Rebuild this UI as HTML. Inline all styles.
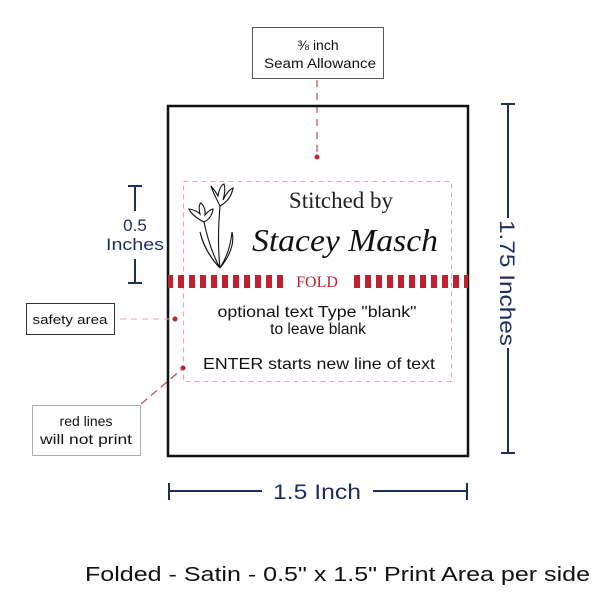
<!DOCTYPE html>
<html><head><style>
body{margin:0;background:#fff}
svg text{font-family:"Liberation Sans",sans-serif}
</style></head><body>
<svg width="600" height="600" viewBox="0 0 600 600" xmlns="http://www.w3.org/2000/svg">
<defs>
<pattern id="st" x="167" y="0" width="11" height="20" patternUnits="userSpaceOnUse"><rect x="0" y="0" width="6" height="20" fill="#c0202f"/></pattern>
</defs>
<!-- seam label -->
<rect x="252.5" y="27.5" width="131" height="51" fill="#fff" stroke="#555" stroke-width="1"/>
<text x="318" y="50" font-size="14" text-anchor="middle" fill="#111">⅜ inch</text>
<text x="320" y="68" font-size="13.5" text-anchor="middle" fill="#111" textLength="112" lengthAdjust="spacingAndGlyphs">Seam Allowance</text>
<line x1="317" y1="80" x2="317" y2="156" stroke="#c0202f" stroke-width="1" stroke-dasharray="7,6"/>
<circle cx="317" cy="157" r="2.5" fill="#c0202f"/>
<!-- outer rect -->
<rect x="168" y="106" width="300" height="350" fill="none" stroke="#111" stroke-width="2.5"/>
<!-- safety box -->
<rect x="183.5" y="181.5" width="268" height="200" fill="none" stroke="#f5a0aa" stroke-width="1" stroke-dasharray="5,4"/>
<!-- fold band -->
<rect x="168" y="275" width="115" height="13" fill="url(#st)"/>
<rect x="354" y="275" width="114" height="13" fill="url(#st)"/>
<text x="317" y="287" font-size="16" text-anchor="middle" fill="#c0202f" style="font-family:'Liberation Serif',serif">FOLD</text>
<!-- texts -->
<text x="341" y="208" font-size="23" text-anchor="middle" fill="#222" style="font-family:'Liberation Serif',serif">Stitched by</text>
<text x="345" y="251" font-size="32" text-anchor="middle" fill="#111" font-style="italic" style="font-family:'Liberation Serif',serif" textLength="186" lengthAdjust="spacingAndGlyphs">Stacey Masch</text>
<text x="317" y="317" font-size="15.5" text-anchor="middle" fill="#111" textLength="199" lengthAdjust="spacingAndGlyphs">optional text  Type "blank"</text>
<text x="318" y="334" font-size="15.5" text-anchor="middle" fill="#111">to leave blank</text>
<text x="319" y="369" font-size="16" text-anchor="middle" fill="#111" textLength="232" lengthAdjust="spacingAndGlyphs">ENTER starts  new line of text</text>
<!-- tulip -->
<g fill="none" stroke="#111" stroke-width="1.1">
<path d="M220 206 Q212 190 211 186 Q216 192 218 196 Q220 185 224 184 Q226 190 223 200 Q228 190 233 188 Q231 200 220 206 Z"/>
<path d="M204 222 Q192 216 189 209 Q196 210 200 214 Q198 205 201 203 Q206 208 205 215 Q209 210 213 209 Q212 218 204 222 Z"/>
<path d="M220 206 Q217 240 220 268 M204 222 Q210 250 220 268 M220 268 Q205 252 200 232 Q204 250 218 266 M220 268 Q236 248 232 232 Q230 252 221 266"/>
</g>
<!-- dimensions -->
<g stroke="#1f2d5c" stroke-width="2" fill="none">
<line x1="128" y1="186" x2="142" y2="186"/><line x1="135" y1="186" x2="135" y2="211"/>
<line x1="128" y1="283" x2="142" y2="283"/><line x1="135" y1="259" x2="135" y2="283"/>
<line x1="508" y1="104" x2="508" y2="218"/><line x1="508" y1="348" x2="508" y2="453"/>
<line x1="501" y1="104" x2="515" y2="104"/><line x1="501" y1="453" x2="515" y2="453"/>
<line x1="169" y1="483" x2="169" y2="500"/><line x1="467" y1="483" x2="467" y2="500"/>
<line x1="169" y1="491" x2="262" y2="491"/><line x1="373" y1="491" x2="467" y2="491"/>
</g>
<text x="135" y="231" font-size="17" text-anchor="middle" fill="#1f2d5c">0.5</text>
<text x="135" y="250" font-size="17" text-anchor="middle" fill="#1f2d5c" textLength="58" lengthAdjust="spacingAndGlyphs">Inches</text>
<text x="317" y="499" font-size="21" text-anchor="middle" fill="#1f2d5c" textLength="88" lengthAdjust="spacingAndGlyphs">1.5 Inch</text>
<text transform="translate(500,283) rotate(90)" font-size="21" text-anchor="middle" fill="#1f2d5c" textLength="126" lengthAdjust="spacingAndGlyphs">1.75 Inches</text>
<!-- safety area label -->
<rect x="26.5" y="303.5" width="88" height="31" fill="#fff" stroke="#333" stroke-width="1"/>
<text x="70" y="324" font-size="13" text-anchor="middle" fill="#111" textLength="75" lengthAdjust="spacingAndGlyphs">safety area</text>
<line x1="120" y1="319" x2="174" y2="319" stroke="#f2a5ad" stroke-width="1" stroke-dasharray="6,5"/>
<circle cx="175" cy="319" r="2.5" fill="#c0202f"/>
<!-- red lines label -->
<rect x="32.5" y="405.5" width="108" height="50" fill="#fff" stroke="#aaa" stroke-width="1"/>
<text x="86" y="426" font-size="14" text-anchor="middle" fill="#111">red lines</text>
<text x="86" y="444" font-size="14" text-anchor="middle" fill="#111" textLength="92" lengthAdjust="spacingAndGlyphs">will not print</text>
<line x1="141" y1="404" x2="181" y2="370" stroke="#c0202f" stroke-width="1" stroke-dasharray="8,5"/>
<circle cx="183" cy="368" r="2.5" fill="#c0202f"/>
<text x="85" y="581" font-size="20" fill="#111" textLength="505" lengthAdjust="spacingAndGlyphs">Folded - Satin - 0.5" x 1.5" Print Area per side</text>
</svg>
</body></html>
